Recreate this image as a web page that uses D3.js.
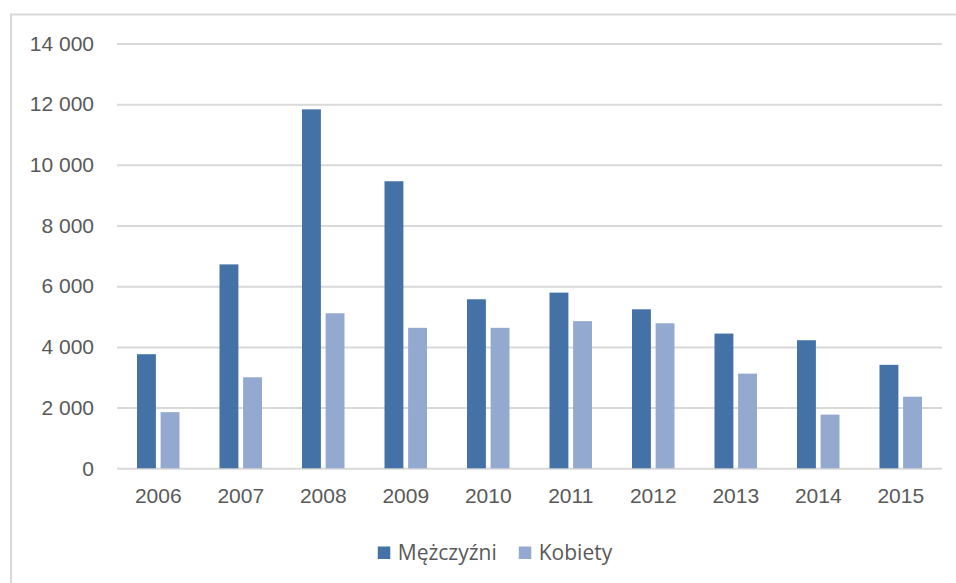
<!DOCTYPE html>
<html>
<head>
<meta charset="utf-8">
<script src="https://cdn.jsdelivr.net/npm/d3@7"></script>
<style>
  html, body { margin: 0; padding: 0; background: #fff; }
  svg { display: block; font-family: "Open Sans", sans-serif; }
  .tick text { fill: #595959; font-size: 21px; }
  .legend text { fill: #595959; font-size: 21px; }
</style>
</head>
<body>
<div id="chart"></div>
<script>
const years = ["2006", "2007", "2008", "2009", "2010", "2011", "2012", "2013", "2014", "2015"];
const series = ["Mężczyźni", "Kobiety"];
const men = [3760, 6720, 11830, 9460, 5570, 5790, 5240, 4440, 4220, 3410];
const women = [1850, 3000, 5110, 4630, 4630, 4850, 4780, 3120, 1770, 2360];
const yTicks = [0, 2000, 4000, 6000, 8000, 10000, 12000, 14000];

const WIDTH = 956;
const HEIGHT = 583;
const PLOT = { left: 117, right: 942, top: 43.5, bottom: 468.3 };
const COLORS = { "Mężczyźni": "#4472a7", "Kobiety": "#94a9d0" };

const svg = d3.select("#chart")
  .append("svg")
  .attr("width", WIDTH)
  .attr("height", HEIGHT);

// chart area frame (runs off the right and bottom edge)
svg.append("rect")
  .attr("x", 11)
  .attr("y", 14.5)
  .attr("width", 1000)
  .attr("height", 1000)
  .attr("fill", "none")
  .attr("stroke", "#d9d9d9")
  .attr("stroke-width", 2);

const x0 = d3.scaleBand().domain(years).range([PLOT.left, PLOT.right]).padding(0);
const groupPad = 20;
const x1 = d3.scaleBand()
  .domain(series)
  .range([groupPad, x0.bandwidth() - groupPad])
  .paddingInner(0.2);
const y = d3.scaleLinear().domain([0, 14000]).range([PLOT.bottom, PLOT.top]);

const fmt = (d) => d3.format(",")(d).replace(/,/g, " ");

// gridlines
svg.append("g")
  .attr("class", "grid")
  .attr("transform", `translate(${PLOT.left},0)`)
  .call(
    d3.axisLeft(y)
      .tickValues(yTicks)
      .tickSize(-(PLOT.right - PLOT.left))
      .tickFormat("")
  )
  .call((g) => g.select(".domain").remove())
  .call((g) => g.selectAll("line").attr("stroke", "#d9d9d9").attr("stroke-width", 2));

// y labels
svg.append("g")
  .attr("class", "y-axis")
  .attr("transform", `translate(${PLOT.left},0)`)
  .call(d3.axisLeft(y).tickValues(yTicks).tickSize(0).tickPadding(23).tickFormat(fmt))
  .call((g) => g.select(".domain").remove())
  .call((g) => g.selectAll("text").attr("font-family", null).attr("font-size", null));

// x labels
svg.append("g")
  .attr("class", "x-axis")
  .attr("transform", `translate(0,${PLOT.bottom})`)
  .call(d3.axisBottom(x0).tickSize(0).tickPadding(20))
  .call((g) => g.select(".domain").remove())
  .call((g) => g.selectAll("text").attr("font-family", null).attr("font-size", null));

const barData = years.flatMap((yr, i) => [
  { year: yr, series: "Mężczyźni", value: men[i] },
  { year: yr, series: "Kobiety", value: women[i] },
]);

svg.append("g")
  .attr("class", "bars")
  .selectAll("rect")
  .data(barData)
  .join("rect")
  .attr("x", (d) => x0(d.year) + x1(d.series))
  .attr("y", (d) => y(d.value))
  .attr("width", x1.bandwidth())
  .attr("height", (d) => y(0) - y(d.value))
  .attr("fill", (d) => COLORS[d.series]);

// legend, centred under the chart area
const legend = svg.append("g").attr("class", "legend");
const items = legend.selectAll("g")
  .data(series)
  .join("g");
items.append("rect")
  .attr("width", 12.5)
  .attr("height", 12.5)
  .attr("y", -6.5)
  .attr("fill", (d) => COLORS[d]);
items.append("text")
  .attr("x", 20)
  .attr("dy", "0.35em")
  .text((d) => d);

let offset = 0;
items.each(function () {
  const g = d3.select(this);
  g.attr("transform", `translate(${offset},0)`);
  offset += 20 + g.select("text").node().getComputedTextLength() + 22;
});
const legendWidth = offset - 22;
legend.attr("transform", `translate(${495 - legendWidth / 2},553)`);
</script>
</body>
</html>
